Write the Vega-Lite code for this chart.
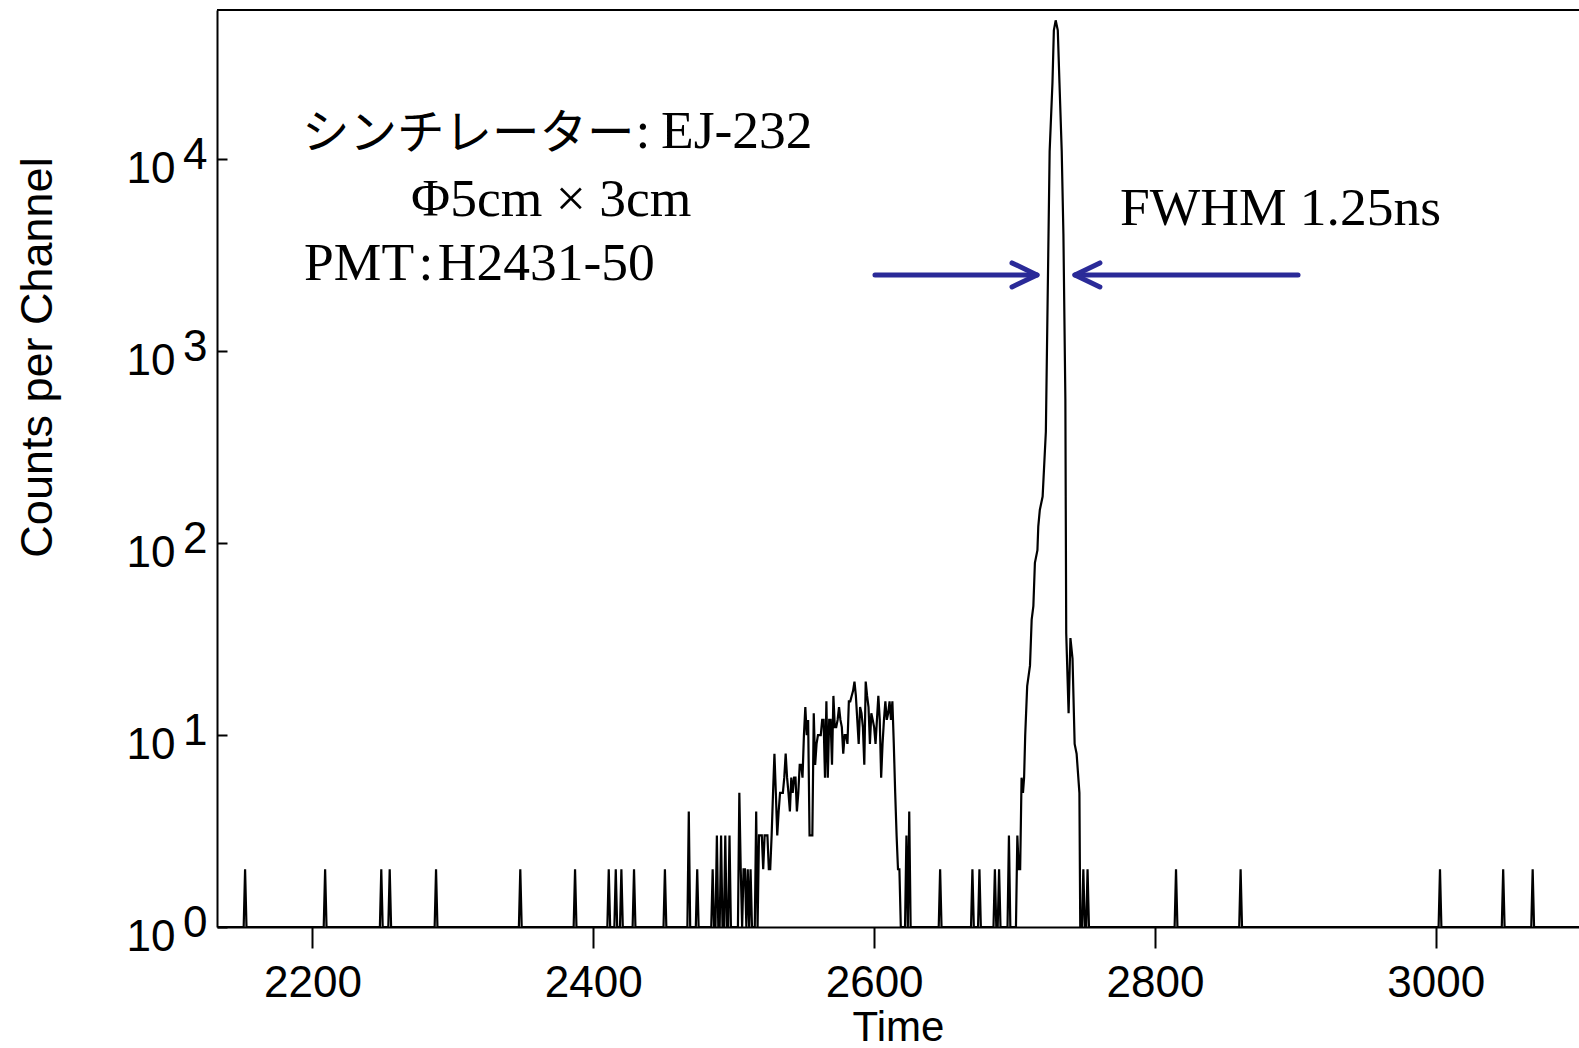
{
  "$schema": "https://vega.github.io/schema/vega-lite/v6.json",
  "width": 1362,
  "height": 917,
  "autosize": {"type": "none"},
  "padding": {"left": 217, "top": 10, "right": 0, "bottom": 121},
  "background": "white",
  "config": {"view": {"stroke": null}},
  "datasets": {
    "series": [
      {"t":2132,"c":1},
      {"t":2151,"c":1},{"t":2152,"c":2},{"t":2153,"c":1},
      {"t":2208,"c":1},{"t":2209,"c":2},{"t":2210,"c":1},
      {"t":2248,"c":1},{"t":2249,"c":2},{"t":2250,"c":1},
      {"t":2254,"c":1},{"t":2255,"c":2},{"t":2256,"c":1},
      {"t":2287,"c":1},{"t":2288,"c":2},{"t":2289,"c":1},
      {"t":2347,"c":1},{"t":2348,"c":2},{"t":2349,"c":1},
      {"t":2386,"c":1},{"t":2387,"c":2},{"t":2388,"c":1},
      {"t":2410,"c":1},{"t":2411,"c":2},{"t":2412,"c":1},
      {"t":2415,"c":1},{"t":2416,"c":2},{"t":2417,"c":1},
      {"t":2419,"c":1},{"t":2420,"c":2},{"t":2421,"c":1},
      {"t":2428,"c":1},{"t":2429,"c":2},{"t":2430,"c":1},
      {"t":2450,"c":1},{"t":2451,"c":2},{"t":2452,"c":1},
      {"t":2467,"c":1},{"t":2468,"c":4},{"t":2469,"c":1},
      {"t":2473,"c":1},{"t":2474,"c":2},{"t":2475,"c":1},
      {"t":2484,"c":1},{"t":2485,"c":2},{"t":2486,"c":1},
      {"t":2487,"c":1},{"t":2488,"c":3},{"t":2489,"c":1},{"t":2490,"c":1},{"t":2491,"c":3},{"t":2492,"c":1},{"t":2493,"c":1},{"t":2494,"c":3},{"t":2495,"c":1},{"t":2496,"c":1},{"t":2497,"c":3},{"t":2498,"c":1},
      {"t":2503,"c":1},{"t":2504,"c":5},{"t":2505,"c":2},{"t":2506,"c":1},{"t":2507,"c":2},{"t":2508,"c":2},{"t":2509,"c":1},{"t":2510,"c":2},{"t":2511,"c":1},{"t":2512,"c":2},{"t":2513,"c":1},{"t":2515,"c":1},{"t":2516,"c":4},{"t":2517,"c":1},{"t":2518,"c":3},{"t":2519,"c":3},{"t":2520,"c":3},{"t":2521,"c":2},{"t":2522,"c":3},{"t":2523,"c":3},{"t":2524,"c":3},{"t":2525,"c":2},{"t":2526,"c":2},{"t":2527,"c":3},{"t":2528,"c":5},{"t":2529,"c":8},{"t":2530,"c":5},{"t":2531,"c":3},{"t":2532,"c":4},{"t":2533,"c":5},{"t":2534,"c":5},{"t":2535,"c":5},{"t":2536,"c":6},{"t":2537,"c":8},{"t":2538,"c":6},{"t":2539,"c":5},{"t":2540,"c":4},{"t":2541,"c":6},{"t":2542,"c":5},{"t":2543,"c":6},{"t":2544,"c":6},{"t":2545,"c":4},{"t":2546,"c":5},{"t":2547,"c":7},{"t":2548,"c":7},{"t":2549,"c":6},{"t":2550,"c":10},{"t":2551,"c":14},{"t":2552,"c":10},{"t":2553,"c":12},{"t":2554,"c":3},{"t":2555,"c":3},{"t":2556,"c":3},{"t":2557,"c":13},{"t":2558,"c":7},{"t":2559,"c":9},{"t":2560,"c":10},{"t":2561,"c":10},{"t":2562,"c":10},{"t":2563,"c":12},{"t":2564,"c":12},{"t":2565,"c":6},{"t":2566,"c":15},{"t":2567,"c":6},{"t":2568,"c":12},{"t":2569,"c":12},{"t":2570,"c":7},{"t":2571,"c":16},{"t":2572,"c":11},{"t":2573,"c":11},{"t":2574,"c":12},{"t":2575,"c":14},{"t":2576,"c":12},{"t":2577,"c":11},{"t":2578,"c":8},{"t":2579,"c":10},{"t":2580,"c":10},{"t":2581,"c":9},{"t":2582,"c":15},{"t":2583,"c":15},{"t":2584,"c":16},{"t":2585,"c":17},{"t":2586,"c":19},{"t":2587,"c":16},{"t":2588,"c":12},{"t":2589,"c":9},{"t":2590,"c":14},{"t":2591,"c":13},{"t":2592,"c":11},{"t":2593,"c":7},{"t":2594,"c":19},{"t":2595,"c":16},{"t":2596,"c":14},{"t":2597,"c":9},{"t":2598,"c":13},{"t":2599,"c":12},{"t":2600,"c":11},{"t":2601,"c":9},{"t":2602,"c":12},{"t":2603,"c":16},{"t":2604,"c":12},{"t":2605,"c":6},{"t":2606,"c":9},{"t":2607,"c":12},{"t":2608,"c":15},{"t":2609,"c":12},{"t":2610,"c":13},{"t":2611,"c":15},{"t":2612,"c":12},{"t":2613,"c":15},{"t":2614,"c":9},{"t":2615,"c":5},{"t":2616,"c":3},{"t":2617,"c":2},{"t":2618,"c":2},{"t":2619,"c":1},
      {"t":2622,"c":1},{"t":2623,"c":3},{"t":2624,"c":1},{"t":2625,"c":4},{"t":2626,"c":1},
      {"t":2646,"c":1},{"t":2647,"c":2},{"t":2648,"c":1},
      {"t":2669,"c":1},{"t":2670,"c":2},{"t":2671,"c":1},
      {"t":2674,"c":1},{"t":2675,"c":2},{"t":2676,"c":1},
      {"t":2685,"c":1},{"t":2686,"c":2},{"t":2687,"c":1},
      {"t":2688,"c":1},{"t":2689,"c":2},{"t":2690,"c":1},
      {"t":2695,"c":1},{"t":2696,"c":3},{"t":2697,"c":1},
      {"t":2700,"c":1},{"t":2701,"c":1},{"t":2702,"c":3},{"t":2703,"c":2},{"t":2704,"c":2},{"t":2705,"c":6},{"t":2706,"c":5},{"t":2706.8,"c":6},{"t":2707.6,"c":10},{"t":2709,"c":18},{"t":2711,"c":23},{"t":2712.2,"c":40},{"t":2713.4,"c":47},{"t":2714.5,"c":79},{"t":2716.3,"c":92},{"t":2716.9,"c":122},{"t":2718,"c":149},{"t":2720,"c":175},{"t":2722.3,"c":381},{"t":2725,"c":11000},{"t":2727,"c":25000},{"t":2728,"c":47000},{"t":2729.3,"c":53000},{"t":2730.8,"c":47000},{"t":2732,"c":25000},{"t":2733.6,"c":11000},{"t":2734.8,"c":4100},{"t":2736.2,"c":560},{"t":2736.8,"c":34},{"t":2738.5,"c":13},{"t":2739.8,"c":32},{"t":2741.3,"c":25},{"t":2742.8,"c":9},{"t":2744.2,"c":8},{"t":2746.2,"c":5},{"t":2746.8,"c":1},
      {"t":2748,"c":1},{"t":2749,"c":2},{"t":2750,"c":1},{"t":2751,"c":1},{"t":2752,"c":2},{"t":2753,"c":1},
      {"t":2814,"c":1},{"t":2815,"c":2},{"t":2816,"c":1},
      {"t":2860,"c":1},{"t":2861,"c":2},{"t":2862,"c":1},
      {"t":3002,"c":1},{"t":3003,"c":2},{"t":3004,"c":1},
      {"t":3047,"c":1},{"t":3048,"c":2},{"t":3049,"c":1},
      {"t":3068,"c":1},{"t":3069,"c":2},{"t":3070,"c":1},
      {"t":3102,"c":1}
    ],
    "exps": [
      {"v":1,"e":"0"},{"v":10,"e":"1"},{"v":100,"e":"2"},{"v":1000,"e":"3"},{"v":10000,"e":"4"}
    ],
    "border": [
      {"top": 60000}
    ],
    "arrows": [
      {"from":2600.6,"to":2716,"y":2500,"dir":"r"},
      {"from":2901.9,"to":2743,"y":2500,"dir":"l"}
    ],
    "notesSerif": [
      {"x":2430,"y":13800,"text":"\u200A:\u2009EJ-232"},
      {"x":2270.2,"y":6140,"text":"Φ5cm × 3cm"},
      {"x":2194,"y":2860,"text":"PMT\u200A:\u200AH2431-50"},
      {"x":2775.1,"y":5480,"text":"FWHM 1.25ns"}
    ],
    "notesJp": [
      {"x":2192.5,"y":13430,"text":"シンチレーター"}
    ]
  },
  "layer": [
    {
      "data": {"name": "series"},
      "mark": {"type": "line", "color": "black", "strokeWidth": 2.2, "clip": true},
      "encoding": {
        "x": {
          "field": "t", "type": "quantitative",
          "scale": {"domain": [2132, 3102], "nice": false, "zero": false},
          "axis": {
            "title": "Time",
            "values": [2200, 2400, 2600, 2800, 3000],
            "format": "d",
            "grid": false,
            "domainColor": "black", "domainWidth": 2,
            "tickColor": "black", "tickWidth": 2, "tickSize": 21,
            "labelFont": "Liberation Sans", "labelFontSize": 44, "labelColor": "black",
            "labelPadding": 13, "labelFlush": false, "labelOverlap": false,
            "titleFont": "Liberation Sans", "titleFontSize": 42, "titleFontWeight": "normal", "titleColor": "black",
            "titleBaseline": "alphabetic", "titleY": 113
          }
        },
        "y": {
          "field": "c", "type": "quantitative",
          "scale": {"type": "log", "domain": [1, 60000], "nice": false},
          "axis": {
            "title": "Counts per Channel",
            "values": [1, 10, 100, 1000, 10000],
            "labelExpr": "'10'",
            "grid": false,
            "domainColor": "black", "domainWidth": 2,
            "tickColor": "black", "tickWidth": 2, "tickSize": -10,
            "labelFont": "Liberation Sans", "labelFontSize": 44, "labelColor": "black",
            "labelAlign": "right", "labelBaseline": "middle",
            "labelPadding": 52, "labelOffset": 10, "labelOverlap": false, "labelFlush": false,
            "titleFont": "Liberation Sans", "titleFontSize": 45, "titleFontWeight": "normal", "titleColor": "black",
            "titleAngle": -90, "titleBaseline": "alphabetic", "titleAlign": "center",
            "titleX": -166, "titleY": 347
          }
        }
      }
    },
    {
      "data": {"name": "exps"},
      "mark": {"type": "text", "align": "left", "baseline": "middle", "dx": -34, "dy": -3, "font": "Liberation Sans", "fontSize": 44, "color": "black"},
      "encoding": {
        "x": {"datum": 2132, "type": "quantitative"},
        "y": {"field": "v", "type": "quantitative", "scale": {"type": "log"}},
        "text": {"field": "e"}
      }
    },
    {
      "data": {"name": "border"},
      "mark": {"type": "rule", "color": "black", "strokeWidth": 2},
      "encoding": {
        "y": {"field": "top", "type": "quantitative", "scale": {"type": "log"}}
      }
    },
    {
      "data": {"name": "arrows"},
      "mark": {"type": "rule", "color": "#2a2a98", "strokeWidth": 5, "strokeCap": "round"},
      "encoding": {
        "x": {"field": "from", "type": "quantitative"},
        "x2": {"field": "to"},
        "y": {"field": "y", "type": "quantitative", "scale": {"type": "log"}}
      }
    },
    {
      "data": {"name": "arrows"},
      "mark": {"type": "point", "filled": false, "stroke": "#2a2a98", "strokeWidth": 5, "strokeCap": "round", "strokeJoin": "round", "size": 2500, "opacity": 1},
      "encoding": {
        "x": {"field": "to", "type": "quantitative"},
        "y": {"field": "y", "type": "quantitative", "scale": {"type": "log"}},
        "shape": {
          "field": "dir", "type": "nominal", "legend": null,
          "scale": {"domain": ["r", "l"], "range": ["M -1 -0.48 L 0 0 L -1 0.48", "M 1 -0.48 L 0 0 L 1 0.48"]}
        }
      }
    },
    {
      "data": {"name": "notesSerif"},
      "mark": {"type": "text", "align": "left", "baseline": "middle", "font": "Liberation Serif, Noto Sans CJK JP", "fontSize": 53.5, "color": "black"},
      "encoding": {
        "x": {"field": "x", "type": "quantitative"},
        "y": {"field": "y", "type": "quantitative", "scale": {"type": "log"}},
        "text": {"field": "text"}
      }
    },
    {
      "data": {"name": "notesJp"},
      "mark": {"type": "text", "align": "left", "baseline": "middle", "font": "Noto Sans CJK JP", "fontSize": 47.5, "color": "black"},
      "encoding": {
        "x": {"field": "x", "type": "quantitative"},
        "y": {"field": "y", "type": "quantitative", "scale": {"type": "log"}},
        "text": {"field": "text"}
      }
    }
  ]
}
